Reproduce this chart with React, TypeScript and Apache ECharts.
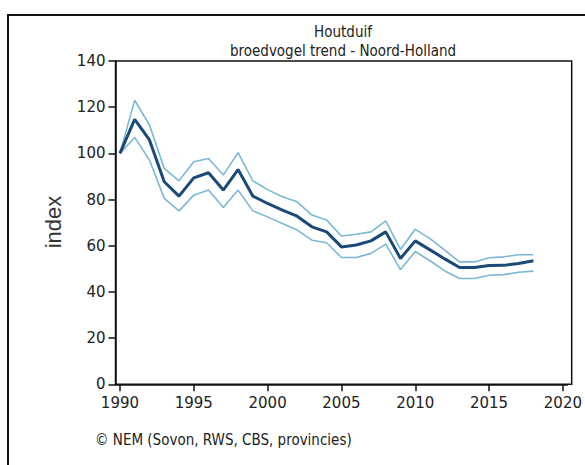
import React, { useEffect, useRef } from "react";
import * as echarts from "echarts";

const years = [1990,1991,1992,1993,1994,1995,1996,1997,1998,1999,2000,2001,2002,2003,2004,2005,2006,2007,2008,2009,2010,2011,2012,2013,2014,2015,2016,2017,2018];
const trend = [100,114.7,105.8,87.7,81.5,89.4,91.6,84.1,93.0,81.5,78.3,75.4,72.8,68.2,66.0,59.5,60.3,62.1,66.0,54.5,62.1,58.2,54.3,50.6,50.6,51.4,51.5,52.3,53.5];
const upper = [100,123,112.3,93.5,88.1,96.4,97.8,90.6,100.3,88.1,84.3,81.2,79.0,73.3,71.1,64.2,65.0,66.0,70.8,58.4,67.1,63.1,58.1,53.0,53.0,54.8,55.2,56.1,56.1];
const lower = [100,106.9,97.1,80.5,75.1,81.9,84.1,76.6,84.1,75.1,72.5,69.6,66.8,62.4,61.3,54.9,54.9,56.7,60.7,49.7,57.5,53.5,49.1,45.8,45.8,47.2,47.5,48.5,49.0];
const xTicks = [1990,1995,2000,2005,2010,2015,2020];
const titleLines = ["Houtduif", "broedvogel trend - Noord-Holland"];
const yName = "index";
const credit = "© NEM (Sovon, RWS, CBS, provincies)";

const pairs = (vals: number[]) => years.map((y, i) => [y, vals[i]]);

export default function App() {
  const ref = useRef<HTMLDivElement>(null);
  useEffect(() => {
    if (!ref.current) return;
    const chart = echarts.init(ref.current, null, { renderer: "svg" });
    const titleFont = "'DejaVu Sans Condensed', 'DejaVu Sans', sans-serif";
    chart.setOption({
      animation: false,
      backgroundColor: "#fff",
      title: {
        text: titleLines.join("\n"),
        left: 338,
        top: 17,
        textAlign: "center",
        textStyle: {
          fontFamily: titleFont,
          fontSize: 15,
          fontWeight: "normal",
          color: "#222",
          lineHeight: 19,
        },
      },
      grid: { left: 115.5, top: 61, right: 13.3, bottom: 80.7, containLabel: false },
      xAxis: {
        type: "value",
        min: 1989.7,
        max: 2020.3,
        axisLine: { show: true, lineStyle: { color: "#111", width: 1.5 } },
        axisTick: { show: true, length: 7, inside: false, customValues: xTicks, lineStyle: { color: "#111", width: 1.5 } },
        axisLabel: {
          customValues: xTicks,
          margin: 11,
          fontFamily: "'DejaVu Sans', sans-serif",
          fontSize: 15,
          color: "#222",
          formatter: (v: number) => String(v),
        },
        splitLine: { show: false },
      },
      yAxis: {
        type: "value",
        min: 0,
        max: 140,
        interval: 20,
        axisLine: { show: true, lineStyle: { color: "#111", width: 1.5 } },
        axisTick: { show: true, length: 7, lineStyle: { color: "#111", width: 1.5 } },
        axisLabel: {
          margin: 10,
          fontFamily: "'DejaVu Sans', sans-serif",
          fontSize: 15,
          color: "#222",
        },
        splitLine: { show: false },
      },
      graphic: [
        {
          type: "rect",
          shape: { x: 8, y: 15, width: 700, height: 600 },
          style: { fill: "none", stroke: "#111", lineWidth: 2 },
          silent: true,
        },
        {
          type: "rect",
          shape: { x: 115.5, y: 61, width: 456.2, height: 323.3 },
          style: { fill: "none", stroke: "#111", lineWidth: 1.5 },
          silent: true,
        },
        {
          type: "text",
          x: 53,
          y: 222,
          rotation: Math.PI / 2,
          style: {
            text: yName,
            align: "center",
            verticalAlign: "middle",
            fontFamily: "'Liberation Sans', Arial, sans-serif",
            fontSize: 22,
            fill: "#333",
          },
        },
        {
          type: "text",
          x: 95,
          y: 440,
          style: {
            text: credit,
            align: "left",
            verticalAlign: "middle",
            fontFamily: titleFont,
            fontSize: 15,
            fill: "#222",
          },
        },
      ],
      series: [
        {
          type: "line",
          data: pairs(upper),
          showSymbol: false,
          lineStyle: { color: "#7ab8d6", width: 1.6 },
          z: 2,
        },
        {
          type: "line",
          data: pairs(lower),
          showSymbol: false,
          lineStyle: { color: "#7ab8d6", width: 1.6 },
          z: 2,
        },
        {
          type: "line",
          data: pairs(trend),
          showSymbol: false,
          lineStyle: { color: "#1b4a78", width: 3 },
          z: 3,
        },
      ],
    });
    return () => chart.dispose();
  }, []);
  return (
    <div
      ref={ref}
      style={{ position: "absolute", left: 0, top: 0, width: 585, height: 465 }}
    />
  );
}
